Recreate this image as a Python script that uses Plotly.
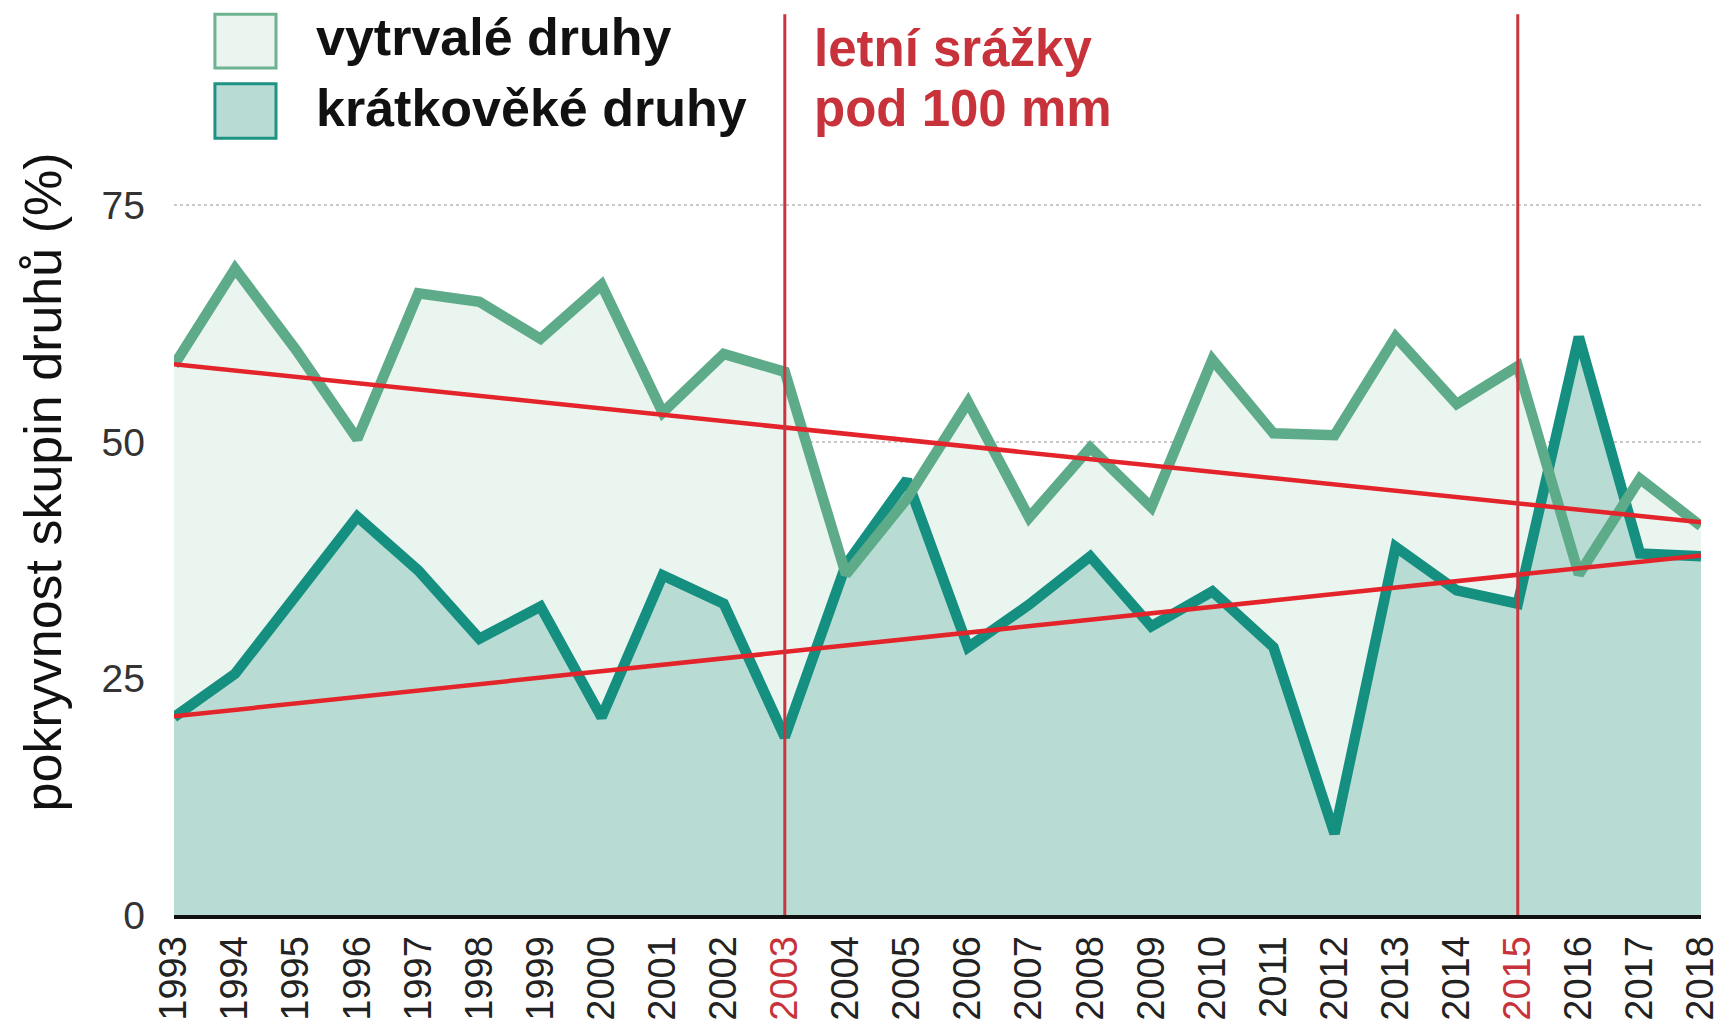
import plotly.graph_objects as go

# ---------------- data ----------------
years = list(range(1993, 2019))
vytrvale = [58.1, 68.3, 59.7, 50.3, 65.7, 64.8, 60.9, 66.6, 53.1, 59.3, 57.4,
            36.0, 44.0, 54.2, 42.0, 49.4, 43.1, 58.7, 50.9, 50.7, 61.1, 54.0,
            58.0, 36.0, 46.1, 41.1]
kratkoveke = [20.9, 25.5, 33.8, 42.1, 36.4, 29.2, 32.6, 20.9, 35.9, 32.9, 18.8,
              37.0, 46.0, 28.3, 32.8, 37.9, 30.5, 34.2, 28.3, 8.6, 38.9, 34.3,
              32.9, 61.1, 38.2, 37.9]
trend_years = [1993, 2018]
trend_vytrvale = [58.2, 41.5]
trend_kratkoveke = [21.0, 38.0]
dry_years = [2003, 2015]
y_ticks = [0, 25, 50, 75]
name_vytrvale = "vytrvalé druhy"
name_kratkoveke = "krátkověké druhy"
dry_label = ["letní srážky", "pod 100 mm"]
y_title = "pokryvnost skupin druhů (%)"

# ---------------- styles ----------------
LIGHT_LINE = "#5eab8a"
LIGHT_FILL = "#eaf5f0"
DARK_LINE = "#148f80"
DARK_FILL = "#b8dcd4"
TREND_RED = "#e3242b"
VLINE_RED = "#c9353f"
TEXT_RED = "#c8323b"
SANS = "Liberation Sans, Arial, sans-serif"

fig = go.Figure()

# fills
fig.add_trace(go.Scatter(x=years, y=vytrvale, mode="lines", fill="tozeroy",
                         fillcolor=LIGHT_FILL, line=dict(width=0), hoverinfo="skip"))
fig.add_trace(go.Scatter(x=years, y=kratkoveke, mode="lines", fill="tozeroy",
                         fillcolor=DARK_FILL, line=dict(width=0), hoverinfo="skip"))
# lines
fig.add_trace(go.Scatter(x=years, y=kratkoveke, mode="lines", name=name_kratkoveke,
                         line=dict(color=DARK_LINE, width=10.5, shape="linear")))
fig.add_trace(go.Scatter(x=years, y=vytrvale, mode="lines", name=name_vytrvale,
                         line=dict(color=LIGHT_LINE, width=10.5, shape="linear")))
# trend lines
fig.add_trace(go.Scatter(x=trend_years, y=trend_vytrvale, mode="lines",
                         line=dict(color=TREND_RED, width=4.5)))
fig.add_trace(go.Scatter(x=trend_years, y=trend_kratkoveke, mode="lines",
                         line=dict(color=TREND_RED, width=4.5)))

# vertical lines for dry years
for yr in dry_years:
    fig.add_shape(type="line", xref="x", yref="paper", x0=yr, x1=yr, y0=0, y1=1.19,
                  line=dict(color=VLINE_RED, width=3), layer="above")

# custom legend
fig.add_shape(type="rect", xref="paper", yref="paper", x0=0.0268, x1=0.0668,
              y0=1.119, y1=1.190, fillcolor=LIGHT_FILL,
              line=dict(color="#6db391", width=3), layer="above")
fig.add_shape(type="rect", xref="paper", yref="paper", x0=0.0268, x1=0.0668,
              y0=1.026, y1=1.098, fillcolor=DARK_FILL,
              line=dict(color="#1f9383", width=3), layer="above")
fig.add_annotation(text=name_vytrvale, xref="paper", yref="paper", x=0.0917, y=1.160,
                   xanchor="left", yanchor="middle", showarrow=False,
                   font=dict(family=SANS, size=52, color="#111", weight="bold"))
fig.add_annotation(text=name_kratkoveke, xref="paper", yref="paper", x=0.0917, y=1.066,
                   xanchor="left", yanchor="middle", showarrow=False,
                   font=dict(family=SANS, size=52, color="#111", weight="bold"))
# red annotation
fig.add_annotation(text=dry_label[0], xref="paper", yref="paper", x=0.4175, y=1.144,
                   xanchor="left", yanchor="middle", showarrow=False,
                   font=dict(family=SANS, size=51, color=TEXT_RED, weight="bold"))
fig.add_annotation(text=dry_label[1], xref="paper", yref="paper", x=0.4175, y=1.065,
                   xanchor="left", yanchor="middle", showarrow=False,
                   font=dict(family=SANS, size=51, color=TEXT_RED, weight="bold"))
# y title
fig.add_annotation(text=y_title, xref="paper", yref="paper", x=-0.0855, y=0.572,
                   xanchor="center", yanchor="middle", textangle=-90, showarrow=False,
                   font=dict(family=SANS, size=52, color="#111"))

ticktext = [f'<span style="color:{TEXT_RED}">{y}</span>' if y in dry_years else str(y)
            for y in years]

# the page body adds an 8 px offset, so the figure is 8 px smaller on each axis
fig.update_layout(
    width=1721, height=1016,
    margin=dict(l=166, r=28, t=150, b=109),
    plot_bgcolor="white", paper_bgcolor="white",
    showlegend=False,
    xaxis=dict(range=[1993, 2018], tickvals=years, ticktext=ticktext, tickangle=-90,
               tickfont=dict(family=SANS, size=38, color="#222"),
               showgrid=False, zeroline=False, showline=True, linecolor="#111",
               linewidth=4, ticks="", ticklabelstandoff=2, automargin=False),
    yaxis=dict(range=[0, 80], tickvals=y_ticks, showgrid=True, gridcolor="#c9c9c9",
               griddash="dot", gridwidth=2, zeroline=False, showline=False,
               tickfont=dict(family=SANS, size=39, color="#333"), ticks="",
               ticklabelstandoff=28, automargin=False),
)

fig.write_html("out.html")
